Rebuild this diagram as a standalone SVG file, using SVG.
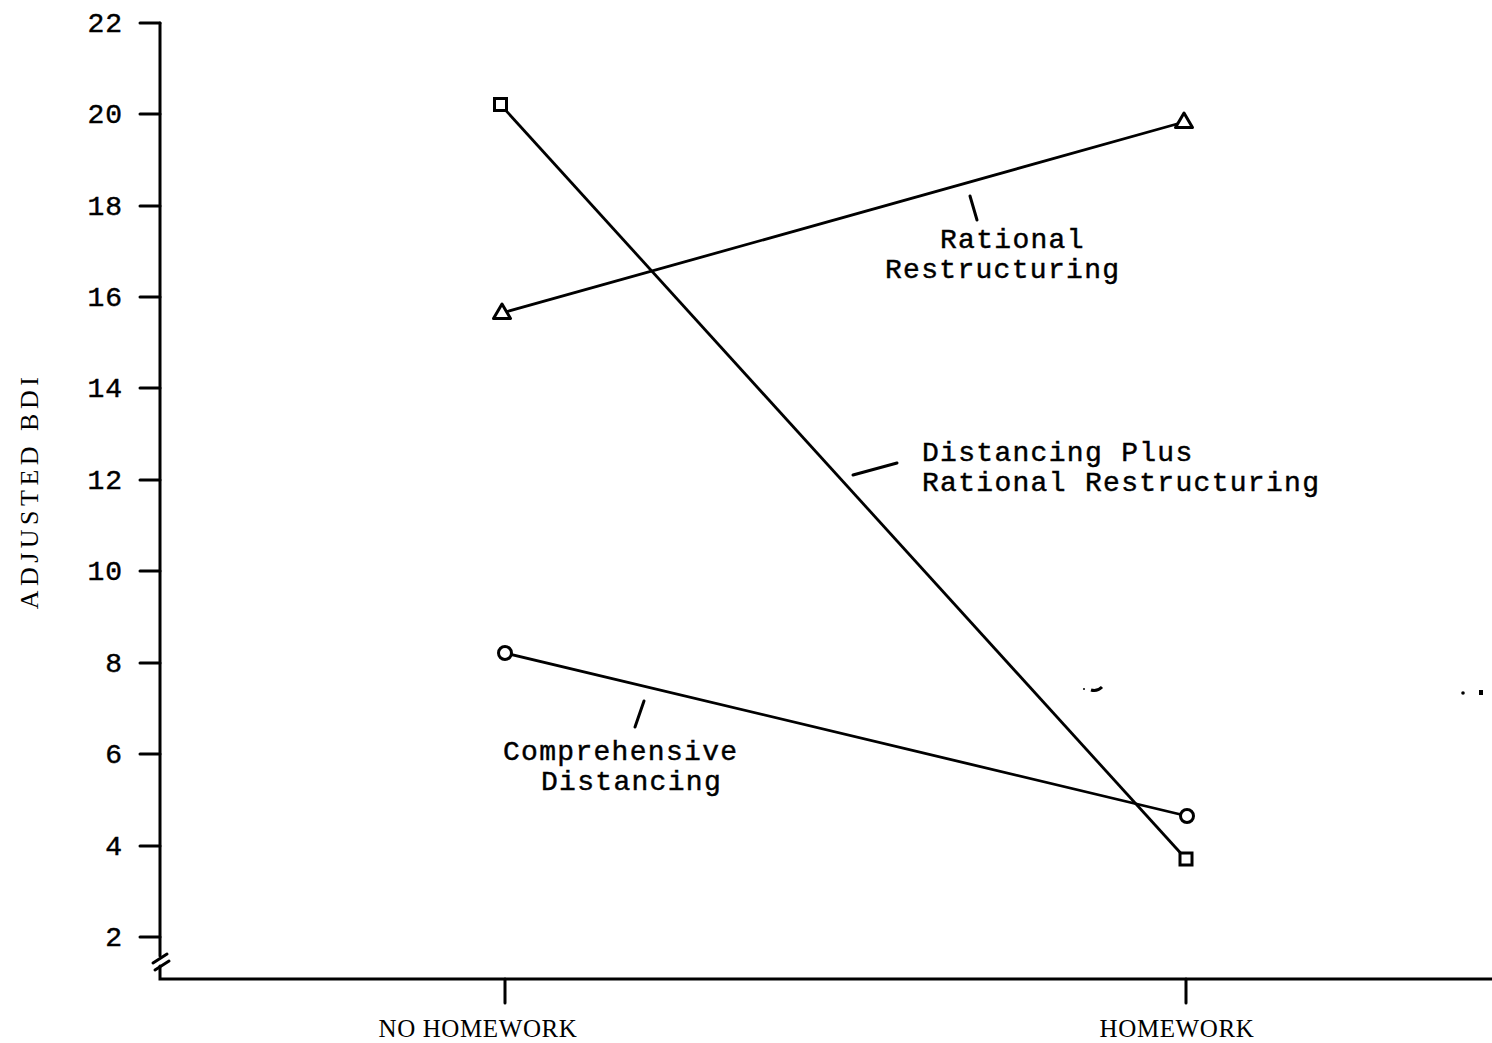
<svg xmlns="http://www.w3.org/2000/svg" width="1492" height="1043" viewBox="0 0 1492 1043">
<style>
.ax{stroke:#000;stroke-width:3;fill:none;stroke-linecap:round}
.ln{stroke:#000;stroke-width:2.8;fill:none}
.mk{stroke:#000;stroke-width:3;fill:#fff}
.num{font-family:"Liberation Mono",monospace;font-size:28px;fill:#000;stroke:#000;stroke-width:0.45;text-anchor:end;letter-spacing:1px}
.lab{font-family:"Liberation Mono",monospace;font-size:28px;fill:#000;stroke:#000;stroke-width:0.45;letter-spacing:1.3px}
.cat{font-family:"Liberation Serif",serif;font-size:25px;fill:#000;text-anchor:middle;letter-spacing:0.6px}
</style>
<g id="axes">
<path class="ax" d="M160 23 V956 M160 966 V979 H1492"/>
<path class="ax" d="M153 963 L167 954 M155 970 L169 961"/>
<path class="ax" d="M140 23 H160 M140 114 H160 M140 206 H160 M140 297 H160 M140 388 H160 M140 480 H160 M140 571 H160 M140 663 H160 M140 754 H160 M140 846 H160 M140 937 H160"/>
<path class="ax" d="M505 979 V1003 M1186 979 V1003"/>
<g>
<text class="num" x="123" y="32">22</text>
<text class="num" x="123" y="123">20</text>
<text class="num" x="123" y="215">18</text>
<text class="num" x="123" y="306">16</text>
<text class="num" x="123" y="397">14</text>
<text class="num" x="123" y="489">12</text>
<text class="num" x="123" y="580">10</text>
<text class="num" x="123" y="672">8</text>
<text class="num" x="123" y="763">6</text>
<text class="num" x="123" y="855">4</text>
<text class="num" x="123" y="946">2</text>
</g>
<text class="cat" x="478" y="1037">NO HOMEWORK</text>
<text class="cat" x="1177" y="1037">HOMEWORK</text>
<text class="cat" transform="translate(38 491) rotate(-90)" style="font-size:26px;letter-spacing:4.5px">ADJUSTED BDI</text>
</g>
<g id="connectors">
<line class="ln" x1="500" y1="104" x2="1186" y2="859"/>
<line class="ln" x1="502" y1="313" x2="1184" y2="122"/>
<line class="ln" x1="505" y1="653" x2="1187" y2="816"/>
<line class="ax" x1="970" y1="196" x2="977" y2="220"/>
<line class="ax" x1="853" y1="475" x2="897" y2="463"/>
<line class="ax" x1="644" y1="701" x2="635" y2="727"/>
</g>
<g id="series-dprr">
<rect class="mk" x="494.5" y="98.5" width="12" height="12"/>
<rect class="mk" x="1180" y="853" width="12" height="12"/>
</g>
<g id="series-rr">
<polygon class="mk" points="502,304 510.5,318.5 493.5,318.5" stroke-linejoin="round"/>
<polygon class="mk" points="1184,113 1192.5,127.5 1175.5,127.5" stroke-linejoin="round"/>
</g>
<g id="series-cd">
<circle class="mk" cx="505" cy="653" r="6.5"/>
<circle class="mk" cx="1187" cy="816" r="6.5"/>
</g>
<g id="labels">
<text class="lab" x="940" y="248">Rational</text>
<text class="lab" x="885" y="278">Restructuring</text>
<text class="lab" x="922" y="461">Distancing Plus</text>
<text class="lab" x="922" y="491">Rational Restructuring</text>
<text class="lab" x="503" y="760">Comprehensive</text>
<text class="lab" x="541" y="790">Distancing</text>
</g>
<g id="specks" fill="#000">
<path d="M1091 690 Q1097 692 1102 687" stroke="#000" stroke-width="3" fill="none"/>
<circle cx="1084" cy="689" r="1"/>
<circle cx="1463" cy="693" r="1.8"/>
<rect x="1479" y="690" width="4" height="5"/>
</g>
</svg>
